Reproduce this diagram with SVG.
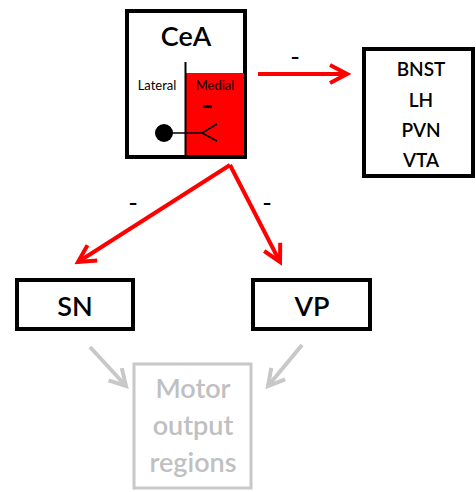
<svg xmlns="http://www.w3.org/2000/svg" width="476" height="492" viewBox="0 0 476 492">
  <style>
    .box { fill: #ffffff; stroke: #000000; stroke-width: 4; }
    .lbl { font-family: Lato, "Open Sans", sans-serif; font-weight: 600; fill: #000000; text-anchor: middle; }
    .big { font-size: 27px; }
    .mid { font-size: 19px; }
    .sm { font-size: 13px; font-weight: 400; }
    .grey { font-size: 27px; fill: #c0c0c0; }
    .sign { font-family: Lato, "Open Sans", sans-serif; font-size: 26px; fill: #000000; text-anchor: middle; }
    .inh { stroke: #ff0000; stroke-width: 4; fill: none; marker-end: url(#headRed); }
    .mot { stroke: #c8c8c8; stroke-width: 4; fill: none; marker-end: url(#headGrey); }
  </style>
  <defs>
    <marker id="headRed" markerUnits="userSpaceOnUse" viewBox="-22 -14 26 28" markerWidth="26" markerHeight="28" refX="0" refY="0" orient="auto">
      <path d="M-17,-9 L0,0 L-17,9" fill="none" stroke="#ff0000" stroke-width="4"/>
    </marker>
    <marker id="headGrey" markerUnits="userSpaceOnUse" viewBox="-22 -14 26 28" markerWidth="26" markerHeight="28" refX="0" refY="0" orient="auto">
      <path d="M-16,-9 L0,0 L-16,9" fill="none" stroke="#c8c8c8" stroke-width="4"/>
    </marker>
  </defs>

  <g id="CeA">
    <rect class="box" x="127" y="11" width="118" height="146"/>
    <rect x="186" y="73" width="58" height="82" fill="#ff0000"/>
    <line x1="185.5" y1="62" x2="185.5" y2="155" stroke="#000000" stroke-width="2"/>
    <text class="lbl big" x="186" y="46">CeA</text>
    <text class="lbl sm" x="157" y="90">Lateral</text>
    <text class="lbl sm" x="215" y="90">Medial</text>
    <rect x="203" y="105" width="9" height="3" fill="#000000"/>
    <circle cx="164" cy="133" r="9" fill="#000000"/>
    <path d="M164,133 H202 M217,124 L202,133 L217,141" fill="none" stroke="#000000" stroke-width="1.5"/>
  </g>

  <g id="targets">
    <rect class="box" x="364" y="49" width="109" height="127"/>
    <text class="lbl mid" x="421" y="76">BNST</text>
    <text class="lbl mid" x="421" y="107">LH</text>
    <text class="lbl mid" x="421" y="137">PVN</text>
    <text class="lbl mid" x="421" y="167">VTA</text>
  </g>

  <g id="SN">
    <rect class="box" x="17" y="280" width="116" height="49"/>
    <text class="lbl big" x="75" y="316">SN</text>
  </g>

  <g id="VP">
    <rect class="box" x="253" y="280" width="117" height="49"/>
    <text class="lbl big" x="312" y="316">VP</text>
  </g>

  <g id="motor">
    <rect x="134" y="364" width="117" height="124" fill="#ffffff" stroke="#c8c8c8" stroke-width="3"/>
    <text class="lbl grey" x="193" y="398">Motor</text>
    <text class="lbl grey" x="193" y="435">output</text>
    <text class="lbl grey" x="193" y="472">regions</text>
  </g>

  <g id="connectors">
    <line class="inh" x1="258" y1="74" x2="347" y2="74"/>
    <line class="inh" x1="230" y1="165" x2="78" y2="262"/>
    <line class="inh" x1="230" y1="165" x2="280" y2="262"/>
    <line class="mot" x1="90" y1="347" x2="126" y2="386"/>
    <line class="mot" x1="302" y1="345" x2="268" y2="386"/>
    <text class="sign" x="295" y="66">-</text>
    <text class="sign" x="133" y="212">-</text>
    <text class="sign" x="267" y="212">-</text>
  </g>
</svg>
